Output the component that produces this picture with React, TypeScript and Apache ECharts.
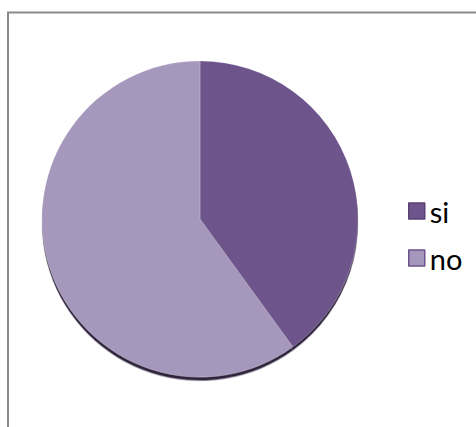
import React, { useEffect, useRef } from "react";
import * as echarts from "echarts";

const categories = ["si", "no"];
const values = [40, 60];
const sliceColors = ["#6D548C", "#A697BC"];
const legendBorders = ["#5A4275", "#6D548C"];

export default function App() {
  const ref = useRef<HTMLDivElement>(null);
  useEffect(() => {
    if (!ref.current) return;
    const chart = echarts.init(ref.current, null, { renderer: "svg" });
    chart.setOption({
      animation: false,
      backgroundColor: "#ffffff",
      graphic: [
        {
          type: "polyline",
          shape: { points: [[8, 427], [8, 12.5], [476, 12.5]] },
          style: { stroke: "#8a8a8a", lineWidth: 2, fill: "none" },
          silent: true,
        },
      ],
      legend: {
        orient: "vertical",
        left: 403,
        top: 190,
        itemWidth: 16,
        itemHeight: 16,
        itemGap: 15,
        icon: "rect",
        textStyle: {
          fontFamily: "Lato",
          fontSize: 29,
          color: "#000000",
          lineHeight: 32,
        },
        data: categories.map((c, i) => ({
          name: c,
          itemStyle: { color: sliceColors[i], borderColor: legendBorders[i], borderWidth: 1.5 },
        })),
      },
      series: [
        {
          type: "pie",
          center: [200, 219],
          radius: 158,
          startAngle: 90,
          clockwise: true,
          label: { show: false },
          labelLine: { show: false },
          emphasis: { disabled: true },
          itemStyle: {
            borderWidth: 0.6,
            borderColor: "rgba(255,255,255,0.35)",
            shadowColor: "rgba(45,32,62,1)",
            shadowBlur: 1.5,
            shadowOffsetY: 3.5,
            shadowOffsetX: 0,
          },
          data: categories.map((c, i) => ({
            name: c,
            value: values[i],
            itemStyle: { color: sliceColors[i] },
          })),
        },
      ],
    });
    return () => chart.dispose();
  }, []);
  return (
    <div
      ref={ref}
      style={{ position: "fixed", left: 0, top: 0, width: 476, height: 427 }}
    />
  );
}
